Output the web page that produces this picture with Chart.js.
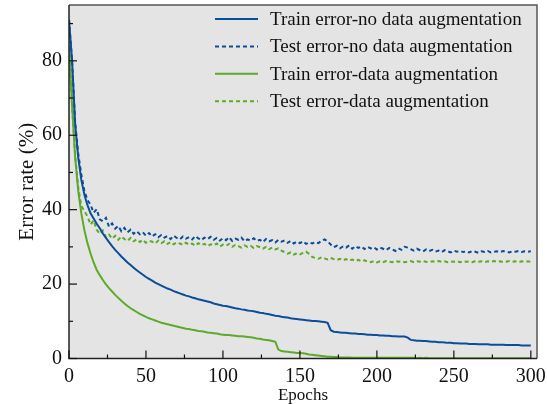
<!DOCTYPE html>
<html>
<head>
<meta charset="utf-8">
<script src="https://cdn.jsdelivr.net/npm/chart.js@4.4.1/dist/chart.umd.min.js"></script>
<style>
  html, body { margin: 0; padding: 0; background: #fff; }
  #wrap { width: 547px; height: 404px; position: relative; }
</style>
</head>
<body>
<div id="wrap"><canvas id="chart" width="547" height="404"></canvas></div>
<script>
// epochs 0..300, every 2nd epoch
const epochs = Array.from({ length: 151 }, (_, i) => i * 2);

const trainNoAug = [
  91, 80, 63, 54, 48, 44, 41.2, 39, 37.6, 36.2,
  35, 33.6, 32.4, 31.3, 30.2, 29.2, 28.3, 27.4, 26.6, 25.8,
  25.1, 24.4, 23.7, 23.1, 22.5, 21.9, 21.4, 20.9, 20.4, 20.0,
  19.6, 19.2, 18.8, 18.5, 18.1, 17.8, 17.5, 17.2, 16.9, 16.7,
  16.4, 16.2, 15.9, 15.7, 15.5, 15.3, 15.1, 14.8, 14.6, 14.4,
  14.2, 14.1, 13.9, 13.7, 13.5, 13.4, 13.2, 13.1, 12.9, 12.8,
  12.7, 12.5, 12.3, 12.2, 12.0, 11.9, 11.7, 11.5, 11.4, 11.2,
  11.1, 11.0, 10.8, 10.7, 10.6, 10.5, 10.4, 10.3, 10.2, 10.1,
  10.1, 10.0, 9.9, 9.8, 9.6, 7.6, 7.2, 7.1, 7.0, 6.9,
  6.9, 6.8, 6.7, 6.7, 6.6, 6.6, 6.5, 6.4, 6.4, 6.3,
  6.3, 6.2, 6.2, 6.1, 6.1, 6.0, 6.0, 5.9, 5.9, 5.9,
  5.6, 5.0, 4.9, 4.8, 4.8, 4.7, 4.7, 4.6, 4.5, 4.5,
  4.4, 4.4, 4.3, 4.2, 4.2, 4.1, 4.1, 4.0, 4.0, 4.0,
  3.9, 3.9, 3.9, 3.8, 3.8, 3.8, 3.8, 3.7, 3.7, 3.7,
  3.7, 3.7, 3.6, 3.6, 3.6, 3.6, 3.6, 3.5, 3.5, 3.5,
  3.5
];

const testNoAug = [
  91, 80, 63.5, 55, 49.5, 45, 42.6, 41.3, 39.2, 40.1,
  37.4, 36.9, 37.8, 35.4, 36.3, 34.9, 35.6, 34.2, 35.1, 33.9,
  34.6, 33.5, 34.2, 33.4, 33.9, 33.0, 33.7, 32.8, 33.4, 32.6,
  33.2, 32.5, 32.9, 32.1, 33.0, 32.4, 32.0, 32.8, 32.2, 32.6,
  32.0, 32.9, 32.3, 31.8, 32.5, 32.1, 32.7, 31.9, 32.4, 31.7,
  32.3, 31.8, 32.6, 31.6, 32.2, 31.9, 32.5, 31.5, 32.0, 31.7,
  32.3, 31.6, 31.9, 31.3, 32.1, 31.5, 31.8, 31.2, 31.9, 31.4,
  31.7, 31.1, 31.6, 30.9, 31.4, 31.0, 31.5, 30.8, 31.2, 30.9,
  31.3, 31.0, 31.6, 32.0, 31.5, 30.6, 29.9, 30.3, 29.6, 30.1,
  29.8, 30.4, 29.5, 30.2, 29.7, 30.1, 29.4, 30.0, 29.6, 29.9,
  29.3, 29.8, 29.5, 29.1, 29.7, 29.3, 28.9, 29.6, 29.2, 30.0,
  29.8, 29.4, 29.0, 29.5, 29.1, 28.8, 29.3, 28.9, 29.2, 28.7,
  29.0, 28.6, 29.1, 28.8, 28.5, 29.0, 28.7, 28.9, 28.6, 28.8,
  28.5, 28.9, 28.7, 28.4, 28.8, 28.6, 28.9, 28.5, 28.7, 28.8,
  28.6, 28.9, 28.7, 28.5, 28.8, 28.7, 28.9, 28.6, 28.8, 28.7,
  28.8
];

const trainAug = [
  84, 68, 54, 45, 39, 34.5, 31, 28.2, 25.8, 23.8,
  22.4, 21.1, 19.9, 18.9, 18.0, 17.1, 16.3, 15.5, 14.8, 14.1,
  13.5, 13.0, 12.5, 12.0, 11.6, 11.2, 10.8, 10.5, 10.2, 9.9,
  9.6, 9.4, 9.2, 9.0, 8.8, 8.6, 8.4, 8.2, 8.0, 7.9,
  7.7, 7.6, 7.4, 7.3, 7.2, 7.0, 6.9, 6.8, 6.7, 6.5,
  6.4, 6.3, 6.3, 6.2, 6.1, 6.0, 6.0, 5.9, 5.8, 5.7,
  5.6, 5.4, 5.3, 5.1, 5.0, 4.9, 4.7, 4.5, 2.4, 2.0,
  1.9, 1.8, 1.7, 1.6, 1.5, 1.5, 1.4, 1.3, 1.1, 1.0,
  0.9, 0.8, 0.7, 0.6, 0.5, 0.5, 0.4, 0.4, 0.3, 0.3,
  0.3, 0.3, 0.2, 0.2, 0.2, 0.2, 0.2, 0.2, 0.2, 0.2,
  0.2, 0.2, 0.2, 0.2, 0.2, 0.2, 0.2, 0.2, 0.2, 0.2,
  0.2, 0.2, 0.2, 0.1, 0.2, 0.1, 0.2, 0.1, 0.1, 0.1,
  0.1, 0.1, 0.1, 0.1, 0.1, 0.1, 0.1, 0.1, 0.1, 0.1,
  0.1, 0.1, 0.1, 0.1, 0.1, 0.1, 0.1, 0.1, 0.1, 0.1,
  0.1, 0.1, 0.1, 0.1, 0.1, 0.1, 0.1, 0.1, 0.1, 0.1,
  0.1
];

const testAug = [
  84, 68, 54.5, 46, 41, 39.6, 38.2, 36.0, 37.1, 34.6,
  33.5, 34.4, 32.6, 33.3, 32.2, 33.0, 31.9, 32.8, 32.1, 31.6,
  32.4, 31.5, 32.0, 31.3, 31.9, 31.1, 31.6, 31.4, 30.9, 31.7,
  31.0, 31.5, 30.8, 31.3, 30.7, 31.2, 30.9, 30.5, 31.1, 30.6,
  30.9, 30.3, 31.0, 30.5, 30.8, 30.2, 30.7, 30.4, 30.9, 30.1,
  30.6, 30.3, 30.8, 30.0, 30.5, 30.2, 29.8, 30.4, 30.0, 30.3,
  29.7, 30.2, 29.9, 29.5, 30.0, 29.4, 29.8, 29.3, 29.6, 29.0,
  28.6, 28.2, 28.5, 27.9, 28.3, 28.0, 28.4, 28.7, 28.1, 27.3,
  27.0, 26.8, 27.2, 26.9, 26.6, 27.0, 26.7, 26.5, 26.8, 26.4,
  26.7, 26.3, 26.6, 26.2, 26.5, 26.1, 26.4, 26.0, 25.9, 26.2,
  25.8, 26.1, 25.9, 26.2, 26.0, 25.9, 26.2, 26.0, 26.1, 25.9,
  26.0, 26.2, 25.9, 26.1, 26.0, 26.2, 26.0, 25.9, 26.1, 26.0,
  26.2, 26.0, 26.1, 25.9, 26.1, 26.0, 26.2, 25.9, 26.1, 26.0,
  26.1, 25.9, 26.2, 26.0, 26.1, 25.9, 26.1, 26.0, 26.2, 26.0,
  26.1, 25.9, 26.0, 26.2, 26.0, 26.1, 25.9, 26.1, 26.0, 26.1,
  26.1
];

const seriesNames = [
  'Train error-no data augmentation',
  'Test error-no data augmentation',
  'Train error-data augmentation',
  'Test error-data augmentation'
];
const xTicks = [0, 50, 100, 150, 200, 250, 300];
const yTicks = [0, 20, 40, 60, 80];

const BLUE = '#0b4d9a';
const GREEN = '#5ea92a';
const SERIF = '"Liberation Serif", "Times New Roman", serif';

function pts(vals) {
  return vals.map((v, i) => ({ x: epochs[i], y: v }));
}

// grey plot background, frame, inward ticks
const framePlugin = {
  id: 'frame',
  beforeDraw(chart) {
    const { ctx, chartArea: a } = chart;
    ctx.save();
    ctx.fillStyle = '#e4e4e4';
    ctx.fillRect(a.left, a.top, a.right - a.left, a.bottom - a.top);
    ctx.restore();
  },
  afterDraw(chart) {
    const { ctx, chartArea: a, scales } = chart;
    ctx.save();
    ctx.lineWidth = 1.5;
    ctx.strokeStyle = '#555';
    ctx.beginPath();
    ctx.moveTo(a.left, a.top); ctx.lineTo(a.right, a.top); ctx.lineTo(a.right, a.bottom);
    ctx.stroke();
    ctx.strokeStyle = '#222';
    ctx.beginPath();
    ctx.moveTo(a.left, a.top); ctx.lineTo(a.left, a.bottom); ctx.lineTo(a.right, a.bottom);
    ctx.stroke();

    ctx.lineWidth = 1.2;
    ctx.strokeStyle = '#111';
    for (let v = 0; v <= 300; v += 25) {
      const x = scales.x.getPixelForValue(v);
      const len = v % 50 === 0 ? 8 : 4;
      ctx.beginPath(); ctx.moveTo(x, a.bottom); ctx.lineTo(x, a.bottom - len); ctx.stroke();
    }
    for (let v = 0; v <= 90; v += 10) {
      const y = scales.y.getPixelForValue(v);
      const len = v % 20 === 0 ? 8 : 4;
      ctx.beginPath(); ctx.moveTo(a.left, y); ctx.lineTo(a.left + len, y); ctx.stroke();
    }
    ctx.restore();
  }
};

// legend inside plot, top right
const legendPlugin = {
  id: 'insideLegend',
  afterDraw(chart) {
    const { ctx } = chart;
    const x0 = 215, x1 = 258, tx = 270, y0 = 19, dy = 27.4;
    ctx.save();
    ctx.font = '19px ' + SERIF;
    ctx.textBaseline = 'middle';
    ctx.textAlign = 'left';
    chart.data.datasets.forEach((ds, i) => {
      const y = y0 + i * dy;
      ctx.strokeStyle = ds.borderColor;
      ctx.lineWidth = 2;
      ctx.setLineDash(ds.borderDash || []);
      ctx.beginPath(); ctx.moveTo(x0, y); ctx.lineTo(x1, y); ctx.stroke();
      ctx.setLineDash([]);
      ctx.fillStyle = '#111';
      ctx.fillText(ds.label, tx, y + 1);
    });
    ctx.restore();
  }
};

new Chart(document.getElementById('chart'), {
  type: 'line',
  data: {
    datasets: [
      { label: seriesNames[0], data: pts(trainNoAug), borderColor: BLUE, borderWidth: 2 },
      { label: seriesNames[1], data: pts(testNoAug), borderColor: BLUE, borderWidth: 2, borderDash: [4, 3] },
      { label: seriesNames[2], data: pts(trainAug), borderColor: GREEN, borderWidth: 2 },
      { label: seriesNames[3], data: pts(testAug), borderColor: GREEN, borderWidth: 2, borderDash: [4, 3] }
    ]
  },
  options: {
    responsive: false,
    animation: false,
    devicePixelRatio: 1,
    elements: { point: { radius: 0 }, line: { tension: 0 } },
    layout: { padding: { left: 0, right: 10, top: 5, bottom: 0 } },
    plugins: { legend: { display: false }, tooltip: { enabled: false } },
    scales: {
      x: {
        type: 'linear', min: 0, max: 304,
        afterFit(s) { s.height = 45.5; s.paddingLeft = 0; s.paddingRight = 0; },
        afterBuildTicks(s) { s.ticks = xTicks.map(v => ({ value: v })); },
        grid: { display: false, drawTicks: false },
        border: { display: false },
        ticks: { font: { family: SERIF, size: 20 }, color: '#111', padding: 6, maxRotation: 0 },
        title: { display: true, text: 'Epochs', font: { family: SERIF, size: 17, lineHeight: 1 }, color: '#111', padding: 0 }
      },
      y: {
        min: 0, max: 95,
        afterFit(s) { s.width = 69; s.paddingTop = 0; s.paddingBottom = 0; },
        afterBuildTicks(s) { s.ticks = yTicks.map(v => ({ value: v })); },
        grid: { display: false, drawTicks: false },
        border: { display: false },
        ticks: { font: { family: SERIF, size: 20 }, color: '#111', padding: 7 },
        title: { display: true, text: 'Error rate (%)', font: { family: SERIF, size: 21, lineHeight: 1.2 }, color: '#111', padding: { top: 15 } }
      }
    }
  },
  plugins: [framePlugin, legendPlugin]
});
</script>
</body>
</html>
